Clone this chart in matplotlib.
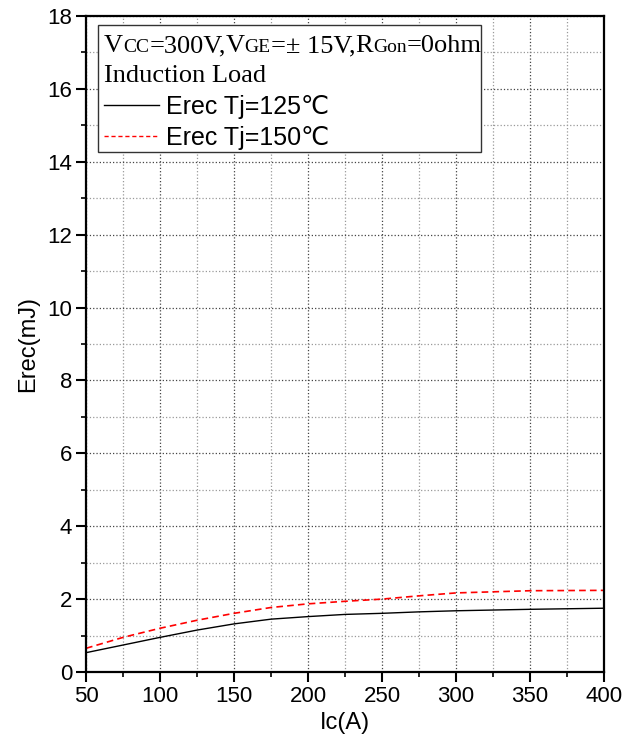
import matplotlib.pyplot as plt
from matplotlib.lines import Line2D
from matplotlib.patches import Rectangle
from matplotlib.ticker import MultipleLocator

# Erec vs Ic
ic = [50, 75, 100, 125, 150, 175, 200, 225, 250, 275, 300, 350, 400]
erec_125 = [0.53, 0.74, 0.95, 1.15, 1.32, 1.45, 1.52, 1.58, 1.61, 1.65, 1.68, 1.72, 1.75]
erec_150 = [0.65, 0.95, 1.20, 1.42, 1.61, 1.77, 1.87, 1.94, 2.00, 2.09, 2.17, 2.23, 2.24]

series_labels = ['Erec Tj=125℃', 'Erec Tj=150℃']
header_line1 = [('V', 19), ('CC', 14), ('=300V,', 19), ('V', 19), ('GE', 14),
                ('=± 15V,', 19), ('R', 19), ('Gon', 14), ('=0ohm', 19)]
header_line2 = 'Induction Load'

sans = ['Liberation Sans', 'DejaVu Sans']
serif = ['Liberation Serif', 'DejaVu Serif']

fig = plt.figure(figsize=(6.28, 7.45), dpi=100)
ax = fig.add_axes([0.137, 0.098, 0.825, 0.8805])

ax.plot(ic, erec_125, color='black', lw=1.0, zorder=2)
ax.plot(ic, erec_150, color='red', lw=1.2, ls=(0, (4, 2.5)), zorder=2)

ax.set_xlim(50, 400)
ax.set_ylim(0, 18)
ax.xaxis.set_major_locator(MultipleLocator(50))
ax.xaxis.set_minor_locator(MultipleLocator(25))
ax.yaxis.set_major_locator(MultipleLocator(2))
ax.yaxis.set_minor_locator(MultipleLocator(1))

ax.grid(which='major', ls=':', color='#444444', lw=0.9)
ax.grid(which='minor', ls=':', color='#999999', lw=0.9)
ax.set_axisbelow(True)

for s in ax.spines.values():
    s.set_linewidth(1.6)
ax.tick_params(which='major', direction='out', length=7, width=1.5,
               labelsize=16, pad=3)
ax.tick_params(which='minor', direction='out', length=3.5, width=1.2)
for lab in ax.get_xticklabels() + ax.get_yticklabels():
    lab.set_family(sans)

ax.set_xlabel('Ic(A)', fontsize=17, family=sans, labelpad=4)
ax.set_ylabel('Erec(mJ)', fontsize=17, family=sans, labelpad=6)

# legend box with the test conditions
ax.add_patch(Rectangle((0.023, 0.793), 0.74, 0.193, transform=ax.transAxes,
                       facecolor='white', edgecolor='#333333', lw=1.0, zorder=3))

prev = ax.text(0.035, 0.945, header_line1[0][0], transform=ax.transAxes,
               fontsize=header_line1[0][1], family=serif, va='baseline', zorder=4)
for txt, size in header_line1[1:]:
    prev = ax.annotate(txt, xy=(1, 0.945), xycoords=(prev, 'axes fraction'),
                       fontsize=size, family=serif, va='baseline', ha='left', zorder=4)
ax.text(0.035, 0.899, header_line2, transform=ax.transAxes, fontsize=19,
        family=serif, va='baseline', zorder=4)

handles = [Line2D([], [], color='black', lw=1.0),
           Line2D([], [], color='red', lw=1.0, ls=(0, (3, 2)))]
leg = ax.legend(handles, series_labels, loc='upper left',
                bbox_to_anchor=(0.034, 0.880), frameon=False, borderpad=0,
                borderaxespad=0, handlelength=2.2, handletextpad=0.3,
                labelspacing=0.28, prop={'family': sans, 'size': 18})
leg.set_zorder(5)

fig.savefig('out.png', dpi=100)
